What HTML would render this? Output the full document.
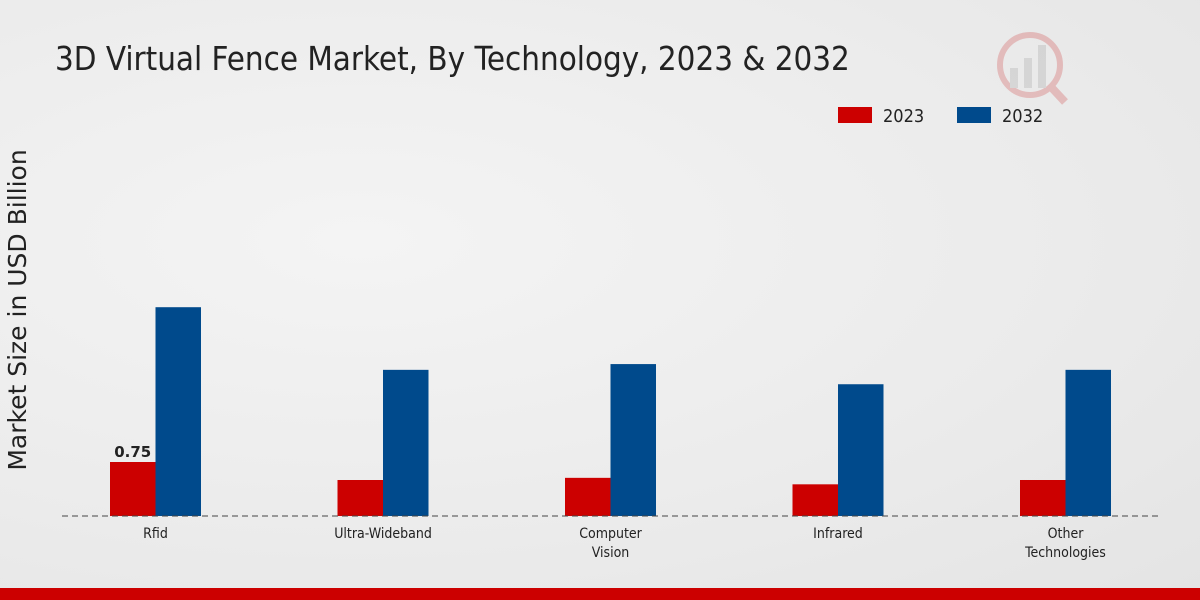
<!DOCTYPE html>
<html><head><meta charset="utf-8"><style>
body{margin:0;width:1200px;height:600px;overflow:hidden;font-family:"Liberation Sans","DejaVu Sans",sans-serif;}
#bg{position:absolute;left:0;top:0;width:1200px;height:600px;background:radial-gradient(ellipse at 30% 40%,#f4f4f4 0%,#ebebeb 60%,#e4e4e4 100%);}
</style></head><body>
<div id="bg"></div>
<svg id="c" width="1200" height="600" style="position:absolute;left:0;top:0">
<text x="55" y="70" font-size="32.8" fill="#222" font-family="DejaVu Sans Condensed, DejaVu Sans, sans-serif">3D Virtual Fence Market, By Technology, 2023 &amp; 2032</text>
<g opacity="0.25">
<circle cx="1030" cy="65" r="30" fill="none" stroke="#c33" stroke-width="6"/>
<line x1="1052" y1="88" x2="1065" y2="102" stroke="#c33" stroke-width="8"/>
<rect x="1010" y="68" width="8" height="20" fill="#999"/><rect x="1024" y="58" width="8" height="30" fill="#999"/><rect x="1038" y="45" width="8" height="43" fill="#999"/>
</g>
<g>
<rect x="838" y="107" width="34" height="16" fill="#cc0000"/>
<text x="883" y="122" font-size="18" fill="#222" font-family="DejaVu Sans Condensed, DejaVu Sans, sans-serif">2023</text>
<rect x="957" y="107" width="34" height="16" fill="#004a8c"/>
<text x="1002" y="122" font-size="18" fill="#222" font-family="DejaVu Sans Condensed, DejaVu Sans, sans-serif">2032</text>
</g>
<text transform="translate(26,310) rotate(-90)" text-anchor="middle" font-size="25" fill="#222" font-family="DejaVu Sans, sans-serif">Market Size in USD Billion</text>
<g id="bars"></g>
<line x1="62" y1="516" x2="1160" y2="516" stroke="#444" stroke-dasharray="6,4"/>
<g id="labels"></g>
<rect x="0" y="588" width="1200" height="12" fill="#cc0000"/>
</svg>
<script>
const categories=[["Rfid"],["Ultra-Wideband"],["Computer","Vision"],["Infrared"],["Other","Technologies"]];
const values2023=[0.75,0.5,0.53,0.44,0.5];
const values2032=[2.9,2.03,2.11,1.83,2.03];
const baseY=516, pxPerUnit=72, x0=155.5, step=227.5, bw=45.5;
const ns="http://www.w3.org/2000/svg";
const xs=i=>x0+i*step, ys=v=>baseY-v*pxPerUnit;
const bars=document.getElementById('bars'), labels=document.getElementById('labels');
categories.forEach((cat,i)=>{
  const r=document.createElementNS(ns,'rect');
  r.setAttribute('x',xs(i)-bw);r.setAttribute('y',ys(values2023[i]));r.setAttribute('width',bw);r.setAttribute('height',baseY-ys(values2023[i]));r.setAttribute('fill','#cc0000');
  
  
  bars.appendChild(r);
  const b=document.createElementNS(ns,'rect');
  b.setAttribute('x',xs(i));b.setAttribute('y',ys(values2032[i]));b.setAttribute('width',bw);b.setAttribute('height',baseY-ys(values2032[i]));b.setAttribute('fill','#004a8c');
  
  
  bars.appendChild(b);
  cat.forEach((line,j)=>{
    const t=document.createElementNS(ns,'text');
    t.setAttribute('x',xs(i));t.setAttribute('y',538+j*19);t.setAttribute('text-anchor','middle');t.setAttribute('font-size','14');t.setAttribute('fill','#222');
    t.setAttribute('font-family','DejaVu Sans Condensed, DejaVu Sans, sans-serif');
    t.textContent=line;
    
    
    labels.appendChild(t);
  });
});
const v=document.createElementNS(ns,'text');
v.setAttribute('x',xs(0)-bw/2);v.setAttribute('y',ys(values2023[0])-5);v.setAttribute('text-anchor','middle');v.setAttribute('font-size','15');v.setAttribute('font-weight','bold');v.setAttribute('fill','#222');
v.setAttribute('font-family','DejaVu Sans, sans-serif');
v.textContent=values2023[0].toFixed(2);


labels.appendChild(v);
</script>
</body></html>
